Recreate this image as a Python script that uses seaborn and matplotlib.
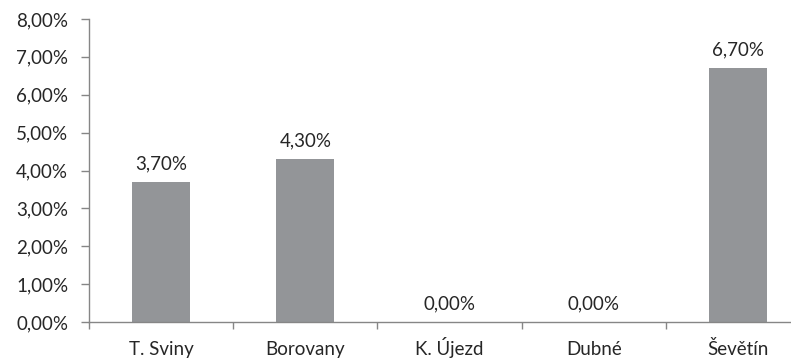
import matplotlib
matplotlib.use("Agg")
import matplotlib.pyplot as plt
import seaborn as sns
import pandas as pd
from matplotlib.ticker import FuncFormatter, MultipleLocator

categories = ["T. Sviny", "Borovany", "K. Újezd", "Dubné", "Ševětín"]
values = [3.70, 4.30, 0.00, 0.00, 6.70]
value_labels = ["3,70%", "4,30%", "0,00%", "0,00%", "6,70%"]

sns.set_theme(style="white")
plt.rcParams['font.family'] = ['Lato', 'DejaVu Sans']

df = pd.DataFrame({"cat": categories, "val": values})

fig = plt.figure(figsize=(7.91, 3.61), dpi=100)
W, H = 791, 361
ax = fig.add_axes([89 / W, 1 - 322 / H, (791 - 89) / W, (322 - 19) / H])

sns.barplot(data=df, x="cat", y="val", color="#939598", width=0.40,
            saturation=1, ax=ax, edgecolor="none")

ax.set_ylim(0, 8)
ax.set_xlim(-0.5, 4.5 - 19 / 144.2)
ax.yaxis.set_major_locator(MultipleLocator(1))
ax.yaxis.set_major_formatter(FuncFormatter(lambda v, p: f"{v:.2f}".replace(".", ",") + "%"))

ax.set_xticks([i - 0.5 for i in range(len(categories))], minor=False)
ax.set_xticklabels([])
ax.set_xticks(range(len(categories)), minor=True)
ax.set_xticklabels(categories, minor=True)

for s in ["top", "right"]:
    ax.spines[s].set_visible(False)
for s in ["left", "bottom"]:
    ax.spines[s].set_color("#868686")
    ax.spines[s].set_linewidth(1)

FS = 13.5
ax.tick_params(axis="y", which="major", left=True, length=6, width=1, color="#868686",
               labelsize=FS, labelcolor="#262626", pad=9)
ax.tick_params(axis="x", which="major", bottom=True, length=5, width=1, color="#868686")
ax.tick_params(axis="x", which="minor", bottom=False, length=0, labelsize=FS,
               labelcolor="#262626", pad=24)
for t in ax.get_xticklabels(minor=True):
    t.set_verticalalignment("baseline")
ax.set_xlabel("")
ax.set_ylabel("")

for i, (v, lab) in enumerate(zip(values, value_labels)):
    ax.annotate(lab, (i, v), xytext=(0, 9), textcoords="offset points",
                ha="center", va="baseline", fontsize=FS, color="#262626")

fig.savefig("out.png", dpi=100)
